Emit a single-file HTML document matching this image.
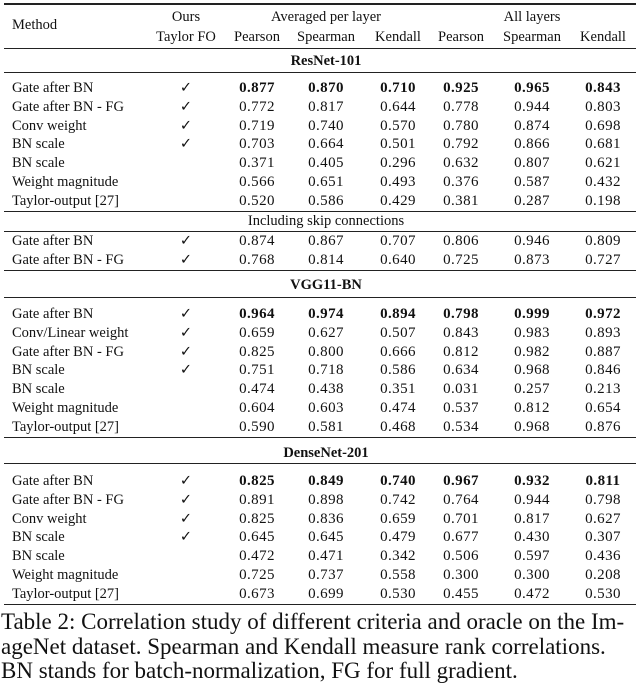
<!DOCTYPE html>
<html><head><meta charset="utf-8"><style>
body{margin:0;background:#fff;width:640px;height:694px;overflow:hidden;font-family:"Liberation Serif",serif;color:#111}
#t{position:absolute;left:0;top:0;width:640px;height:694px}
.tx{position:absolute;white-space:nowrap;font-size:14.5px;line-height:16px;transform:translate(-50%,-50%)}
.l{transform:translate(0,-50%)}
.n{font-size:15px;letter-spacing:0.4px}
.b{font-weight:bold}
.rule{position:absolute;left:4px;width:632px;height:1px;background:#222}
.cap{position:absolute;left:1px;font-size:23px;line-height:24px;white-space:nowrap}
</style></head><body>
<div id="t"></div>
<div class="cap" style="top:610px">Table 2: Correlation study of different criteria and oracle on the Im-</div>
<div class="cap" style="top:635px">ageNet dataset. Spearman and Kendall measure rank correlations.</div>
<div class="cap" style="top:659px">BN stands for batch-normalization, FG for full gradient.</div>
<script>
const cols=[257,326,398,461,532,603];
const sections=[
 {title:"ResNet-101",ty:61,rows:[
  ["Gate after BN",1,["0.877","0.870","0.710","0.925","0.965","0.843"],1],
  ["Gate after BN - FG",1,["0.772","0.817","0.644","0.778","0.944","0.803"]],
  ["Conv weight",1,["0.719","0.740","0.570","0.780","0.874","0.698"]],
  ["BN scale",1,["0.703","0.664","0.501","0.792","0.866","0.681"]],
  ["BN scale",0,["0.371","0.405","0.296","0.632","0.807","0.621"]],
  ["Weight magnitude",0,["0.566","0.651","0.493","0.376","0.587","0.432"]],
  ["Taylor-output [27]",0,["0.520","0.586","0.429","0.381","0.287","0.198"]]],y0:88},
 {title:"Including skip connections",ty:221,plain:1,rows:[
  ["Gate after BN",1,["0.874","0.867","0.707","0.806","0.946","0.809"]],
  ["Gate after BN - FG",1,["0.768","0.814","0.640","0.725","0.873","0.727"]]],y0:241},
 {title:"VGG11-BN",ty:285,rows:[
  ["Gate after BN",1,["0.964","0.974","0.894","0.798","0.999","0.972"],1],
  ["Conv/Linear weight",1,["0.659","0.627","0.507","0.843","0.983","0.893"]],
  ["Gate after BN - FG",1,["0.825","0.800","0.666","0.812","0.982","0.887"]],
  ["BN scale",1,["0.751","0.718","0.586","0.634","0.968","0.846"]],
  ["BN scale",0,["0.474","0.438","0.351","0.031","0.257","0.213"]],
  ["Weight magnitude",0,["0.604","0.603","0.474","0.537","0.812","0.654"]],
  ["Taylor-output [27]",0,["0.590","0.581","0.468","0.534","0.968","0.876"]]],y0:314},
 {title:"DenseNet-201",ty:453,rows:[
  ["Gate after BN",1,["0.825","0.849","0.740","0.967","0.932","0.811"],1],
  ["Gate after BN - FG",1,["0.891","0.898","0.742","0.764","0.944","0.798"]],
  ["Conv weight",1,["0.825","0.836","0.659","0.701","0.817","0.627"]],
  ["BN scale",1,["0.645","0.645","0.479","0.677","0.430","0.307"]],
  ["BN scale",0,["0.472","0.471","0.342","0.506","0.597","0.436"]],
  ["Weight magnitude",0,["0.725","0.737","0.558","0.300","0.300","0.208"]],
  ["Taylor-output [27]",0,["0.673","0.699","0.530","0.455","0.472","0.530"]]],y0:481}
];
const rules=[[3,2],[48,1],[72,1],[211,1],[231,1],[270,1],[297,1],[437,1],[463,1],[604,1]];
const T=document.getElementById('t');
function txt(s,x,y,cls,name){const d=document.createElement('div');d.className='tx '+(cls||'');d.textContent=s;d.style.left=x+'px';d.style.top=y+'px';


T.appendChild(d);return d;}
rules.forEach((r,i)=>{const d=document.createElement('div');d.className='rule';d.style.top=r[0]+'px';d.style.height=r[1]+'px';


T.appendChild(d);});
txt("Method",12,25,'l','header-method');
txt("Ours",186,17,'','header-ours');
txt("Taylor FO",186,37,'','header-taylor-fo');
txt("Averaged per layer",326,17,'','header-averaged');
txt("All layers",532,17,'','header-all-layers');
const hn=["Pearson","Spearman","Kendall","Pearson","Spearman","Kendall"];
hn.forEach((h,i)=>txt(h,cols[i],37,'','header-'+h.toLowerCase()));
sections.forEach(s=>{
 txt(s.title,326,s.ty,s.plain?'':'b','section-title');
 s.rows.forEach((r,j)=>{const y=s.y0+j*18.8;
  txt(r[0],12,y,'l','row-method');
  if(r[1])txt("\u2713",186,y,'','check-mark');
  r[2].forEach((v,k)=>txt(v,cols[k],y,'n'+(r[3]?' b':''),'value-cell'));
 });
});
</script>
</body></html>
